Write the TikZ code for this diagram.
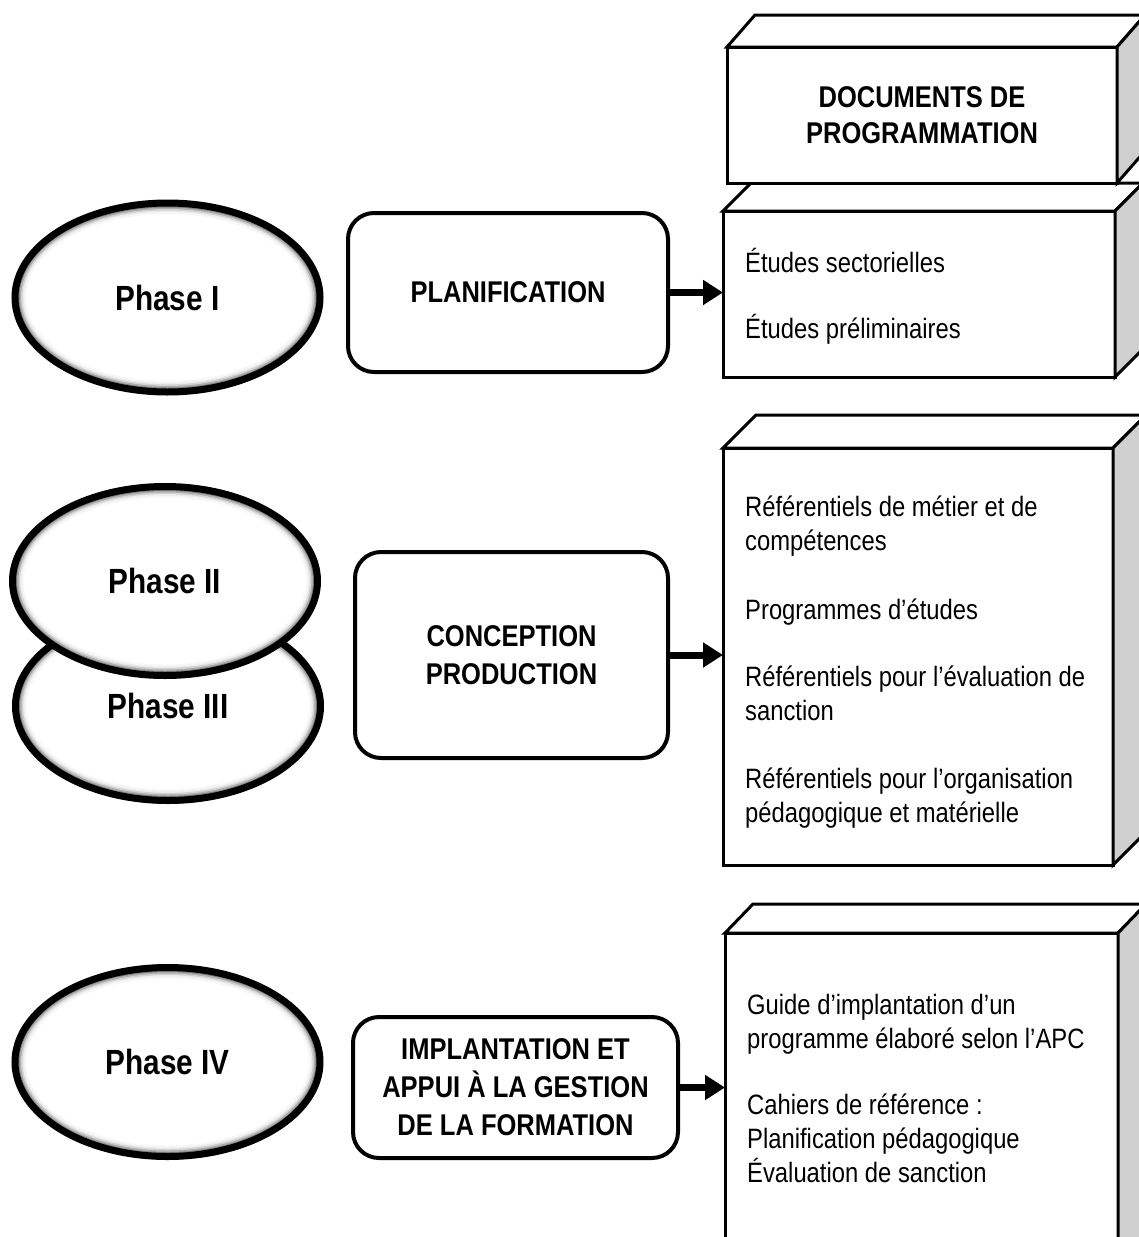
\documentclass[tikz,border=0pt]{standalone}
\usepackage{fontspec}
\setmainfont[FakeStretch=0.85]{Liberation Sans}
\usetikzlibrary{shapes.geometric,arrows.meta,calc}
\tikzset{
  phase/.style={ellipse, minimum width=305pt, minimum height=189pt, inner sep=0pt,
    fill=white, draw=black, line width=7pt,
    font=\bfseries\fontsize{35}{40}\selectfont,
    path picture={
      \foreach \k/\c in {0/50,1.5/32,3/18,4.5/8,6/3}{
        \draw[black!\c, line width=2pt] (path picture bounding box.center)
          ellipse ({148.5pt-\k pt} and {90.5pt-\k pt});
      }}},
  procbox/.style={draw, line width=4pt, rounded corners=26pt, fill=white,
    align=center, inner sep=0pt, font=\bfseries\fontsize{30}{38}\selectfont},
  face/.style={draw, line width=3pt, fill=white, inner sep=0pt, outer sep=0pt, line join=miter},
  sideface/.style={draw, line width=3pt, fill=black!19, line join=miter},
  item/.style={anchor=base west, align=left, inner sep=0pt, font=\fontsize{28}{34}\selectfont},
  flow/.style={line width=7pt, -{Triangle[length=20pt,width=24pt]}}
}
\begin{document}
\begin{tikzpicture}[x=1pt,y=-1pt]
\useasboundingbox (0,0) rectangle (1139,1237);
\fill[white] (0,0) rectangle (1139,1237);
\clip (0,0) rectangle (1139,1237);

% ---------- phases ----------
\node[phase] (p1) at (167.5,297.5) {Phase I};
\node[phase] (p3) at (168,706) {Phase III};
\node[phase] (p2) at (165,581) {Phase II};
\node[phase] (p4) at (167.5,1062) {Phase IV};

% ---------- process boxes ----------
\node[procbox, minimum width=320pt, minimum height=159pt] (plan) at (508,292.5) {PLANIFICATION};
\node[procbox, minimum width=313pt, minimum height=206pt] (conc) at (511.5,655) {CONCEPTION\\PRODUCTION};
\node[procbox, minimum width=325pt, minimum height=141pt] (impl) at (515.5,1087.5) {IMPLANTATION ET\\APPUI À LA GESTION\\DE LA FORMATION};

% ---------- cube: Etudes ----------
\node[face, minimum width=392pt, minimum height=166pt] (etuF) at (919,294) {};
\draw[face] (etuF.north west) -- ++(28,-28) -- ($(etuF.north east)+(28,-28)$) -- (etuF.north east) -- cycle;
\draw[sideface] (etuF.north east) -- ++(28,-28) -- ($(etuF.south east)+(28,-28)$) -- (etuF.south east) -- cycle;

% ---------- cube: Documents ----------
\node[face, minimum width=390pt, minimum height=136pt, align=center,
      font=\bfseries\fontsize{30}{36}\selectfont] (docF) at (922,115) {DOCUMENTS DE\\PROGRAMMATION};
\draw[face] (docF.north west) -- ++(28,-32) -- ($(docF.north east)+(28,-32)$) -- (docF.north east) -- cycle;
\draw[sideface] (docF.north east) -- ++(28,-32) -- ($(docF.south east)+(28,-32)$) -- (docF.south east) -- cycle;

% ---------- cube: Referentiels ----------
\node[face, minimum width=390pt, minimum height=417pt] (refF) at (918,656.5) {};
\draw[face] (refF.north west) -- ++(33,-33) -- ($(refF.north east)+(33,-33)$) -- (refF.north east) -- cycle;
\draw[sideface] (refF.north east) -- ++(33,-33) -- ($(refF.south east)+(33,-33)$) -- (refF.south east) -- cycle;

% ---------- cube: Guide ----------
\node[face, minimum width=393pt, minimum height=367pt] (guiF) at (921.5,1116.5) {};
\draw[face] (guiF.north west) -- ++(28,-29) -- ($(guiF.north east)+(28,-29)$) -- (guiF.north east) -- cycle;
\draw[sideface] (guiF.north east) -- ++(28,-29) -- ($(guiF.south east)+(28,-29)$) -- (guiF.south east) -- cycle;

% ---------- texts (anchored at the baseline of their last line) ----------
\node[item] (etuT) at (745,338) {Études sectorielles\\[32pt]Études préliminaires};
\node[item] (refT) at (745,822) {Référentiels de métier et de\\compétences\\[35pt]Programmes d’études\\[33pt]Référentiels pour l’évaluation de\\sanction\\[34pt]Référentiels pour l’organisation\\pédagogique et matérielle};
\node[item] (guiT) at (747,1182) {Guide d’implantation d’un\\programme élaboré selon l’APC\\[32pt]Cahiers de référence :\\Planification pédagogique\\Évaluation de sanction};

% ---------- arrows ----------
\draw[flow] (plan.east) -- (plan.east -| etuF.west);
\draw[flow] (conc.east) -- (conc.east -| refF.west);
\draw[flow] (impl.east) -- (impl.east -| guiF.west);
\end{tikzpicture}
\end{document}
